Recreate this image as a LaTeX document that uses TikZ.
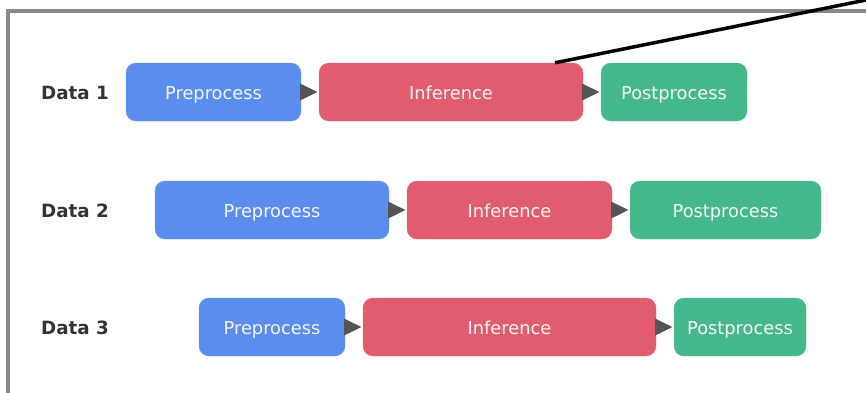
\documentclass[tikz,border=0pt]{standalone}
\usepackage{fontspec}
\setmainfont{DejaVu Sans}
\definecolor{preblue}{HTML}{5B8DEE}
\definecolor{infred}{HTML}{E05C6E}
\definecolor{postgreen}{HTML}{45B88B}
\definecolor{arrgray}{HTML}{555555}
\definecolor{labgray}{HTML}{333333}
\definecolor{framegray}{HTML}{888888}
\tikzset{
  stage/.style={rectangle, rounded corners=10pt, minimum height=58pt, inner sep=0pt,
    text height=14pt, text depth=0pt,
    text=white!96!black, font=\fontsize{17.8}{20}\selectfont},
  pre/.style={stage, fill=preblue, draw=preblue!90!white},
  inf/.style={stage, fill=infred, draw=infred!90!white},
  post/.style={stage, fill=postgreen, draw=postgreen!90!white},
  rowlabel/.style={anchor=west, text=labgray, text height=14pt, text depth=0pt,
    inner sep=0pt, font=\fontsize{18.3}{20}\selectfont\bfseries},
  tri/.style={fill=arrgray}
}
\newcommand{\triarrow}[2]{%
  \fill[tri] ([xshift=-1pt,yshift=8.5pt]#1.east) -- ([xshift=-1pt,yshift=-8.5pt]#1.east) -- ([xshift=-1.5pt]#2.west) -- cycle;}
\begin{document}
\begin{tikzpicture}[x=1pt,y=-1pt]
\useasboundingbox (0,0) rectangle (866,392);
\draw[framegray, line width=3.2pt] (8,420) -- (8,11) -- (900,11);
% row 1
\node[rowlabel] (d1) at (41,92) {Data 1};
\node[pre, minimum width=175pt] (p1) at (213.5,92) {Preprocess};
\node[inf, minimum width=264pt] (i1) at (451,92) {Inference};
\node[post, minimum width=146pt] (o1) at (674,92) {Postprocess};
% row 2
\node[rowlabel] (d2) at (41,210) {Data 2};
\node[pre, minimum width=234pt] (p2) at (272,210) {Preprocess};
\node[inf, minimum width=205pt] (i2) at (509.5,210) {Inference};
\node[post, minimum width=191pt] (o2) at (725.5,210) {Postprocess};
% row 3
\node[rowlabel] (d3) at (41,327) {Data 3};
\node[pre, minimum width=146pt] (p3) at (272,327) {Preprocess};
\node[inf, minimum width=293pt] (i3) at (509.5,327) {Inference};
\node[post, minimum width=132pt] (o3) at (740,327) {Postprocess};
% arrows
\triarrow{p1}{i1}\triarrow{i1}{o1}
\triarrow{p2}{i2}\triarrow{i2}{o2}
\triarrow{p3}{i3}\triarrow{i3}{o3}
% zoom line
\coordinate (zend) at (871,-1);
\draw[black, line width=3.5pt] ([xshift=104pt]i1.north) -- (zend);
\end{tikzpicture}
\end{document}
